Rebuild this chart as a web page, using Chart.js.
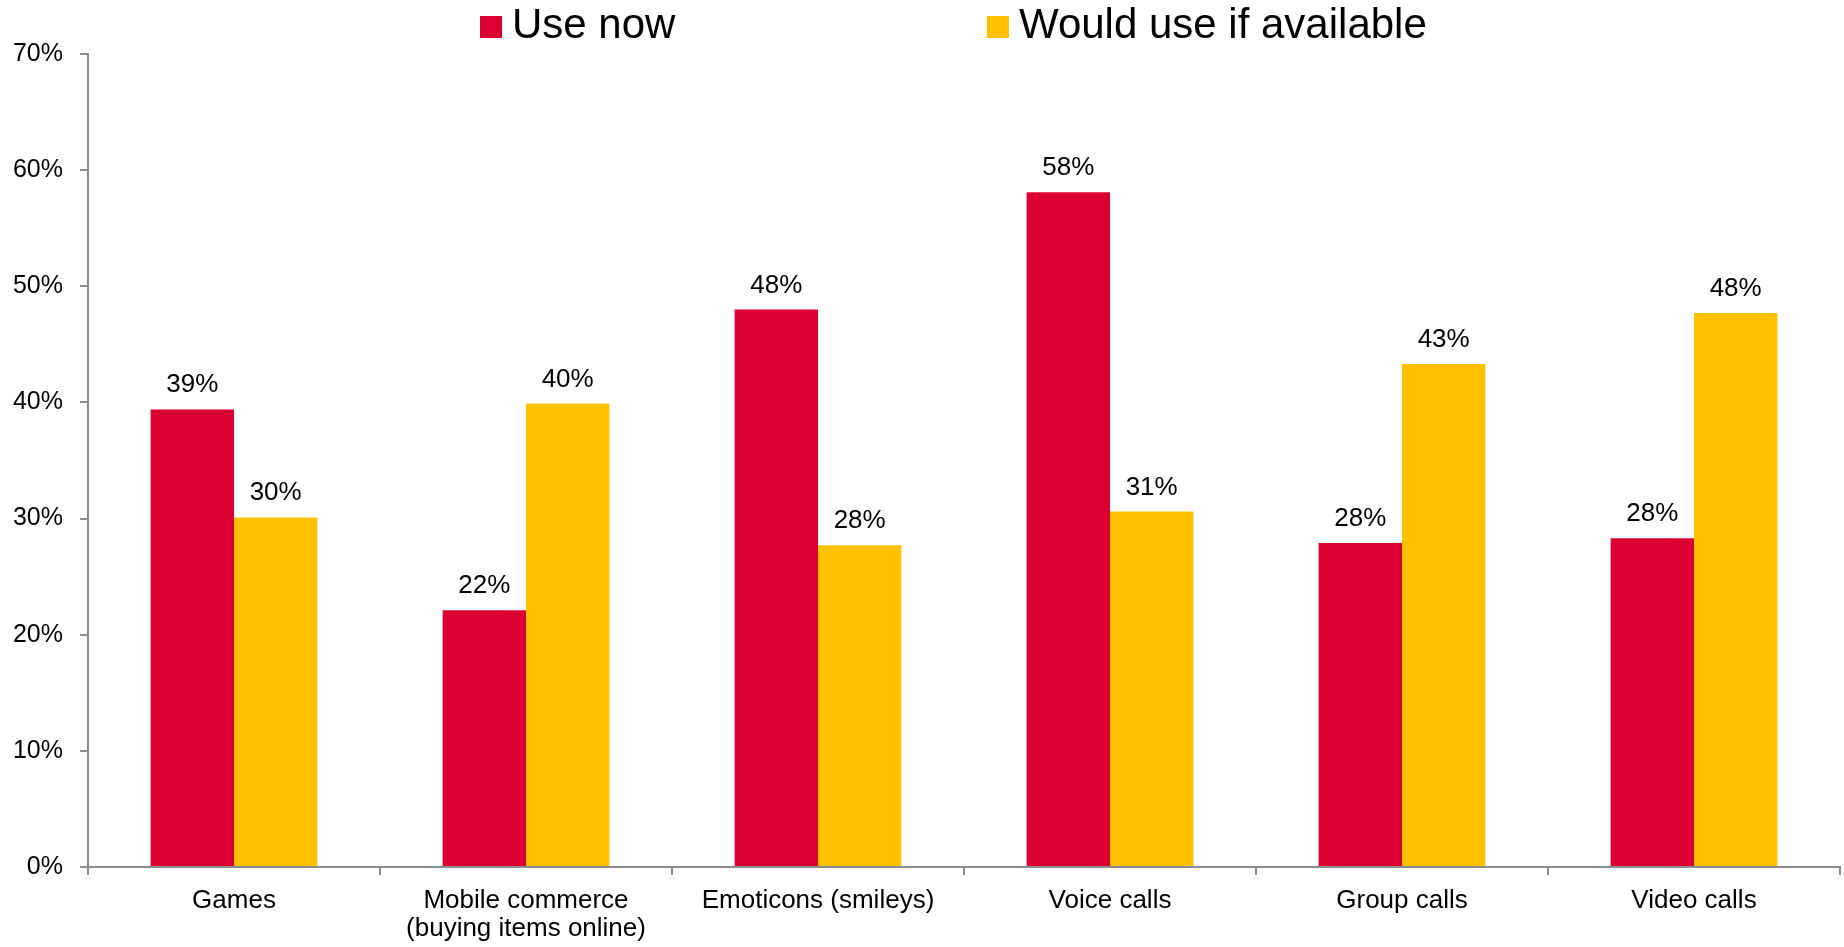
<!DOCTYPE html>
<html>
<head>
<meta charset="utf-8">
<script src="https://cdn.jsdelivr.net/npm/chart.js@4.4.1/dist/chart.umd.min.js"></script>
<style>
  body { margin: 0; background: #fff; }
  #wrap { position: relative; width: 1844px; height: 947px; }
  .leg { position: absolute; top: 3px; font: 42px "Liberation Sans", Arial, sans-serif; line-height: 42px; color: #000; white-space: nowrap; }
  .leg span.box { position: absolute; left: 0; top: 13px; width: 22px; height: 22px; }
  .leg span.txt { margin-left: 32px; }
</style>
</head>
<body>
<div id="wrap">
  <canvas id="mycanvas" width="1844" height="947"></canvas>
  <div class="leg" style="left:480px"><span class="box" style="background:#DC0032"></span><span class="txt">Use now</span></div>
  <div class="leg" style="left:987px"><span class="box" style="background:#FFC000"></span><span class="txt">Would use if available</span></div>
</div>
<script>
//chart data
var categories = ['Games', ['Mobile commerce', '(buying items online)'], 'Emoticons (smileys)', 'Voice calls', 'Group calls', 'Video calls'];
var useNow = [39.4, 22.1, 48.0, 58.1, 27.9, 28.3];
var wouldUse = [30.1, 39.9, 27.7, 30.6, 43.3, 47.7];
var yTicks = [0, 10, 20, 30, 40, 50, 60, 70];

var fontName = '"Liberation Sans", Arial, sans-serif';
var axisGrey = '#8c8c8c';

//draws the % above each bar
var barLabels = {
  id: 'barLabels',
  afterDatasetsDraw: function(chart) {
    var ctx = chart.ctx;
    ctx.save();
    ctx.font = '26px ' + fontName;
    ctx.fillStyle = '#000';
    ctx.textAlign = 'center';
    ctx.textBaseline = 'alphabetic';
    chart.data.datasets.forEach(function(ds, i) {
      chart.getDatasetMeta(i).data.forEach(function(bar, j) {
        ctx.fillText(Math.round(ds.data[j]) + '%', bar.x, bar.y - 17);
      });
    });
    ctx.restore();
  }
};

var ctx = document.getElementById('mycanvas').getContext('2d');
var mychart = new Chart(ctx, {
  type: 'bar',
  data: {
    labels: categories,
    datasets: [
      { label: 'Use now', backgroundColor: '#DC0032', data: useNow },
      { label: 'Would use if available', backgroundColor: '#FFC000', data: wouldUse }
    ]
  },
  options: {
    responsive: false,
    animation: false,
    layout: { padding: { top: 54, right: 4, left: 0, bottom: 0 } },
    datasets: { bar: { categoryPercentage: 0.571, barPercentage: 1.0 } },
    plugins: {
      legend: { display: false },
      tooltip: { enabled: false }
    },
    scales: {
      x: {
        grid: { offset: true, drawOnChartArea: false, drawTicks: true, tickLength: 8, color: axisGrey, lineWidth: 2 },
        border: { color: axisGrey, width: 2 },
        ticks: { color: '#000', font: { family: fontName, size: 26, lineHeight: 1.08 }, padding: 12, maxRotation: 0, autoSkip: false },
        afterFit: function(scale) { scale.height = 80; }
      },
      y: {
        min: 0,
        max: 70,
        afterBuildTicks: function(scale) {
          scale.ticks = yTicks.map(function(v) { return { value: v }; });
        },
        grid: { drawOnChartArea: false, drawTicks: true, tickLength: 8, color: axisGrey, lineWidth: 2 },
        border: { color: axisGrey, width: 2 },
        ticks: {
          color: '#000',
          font: { family: fontName, size: 25 },
          padding: 17,
          callback: function(v) { return v + '%'; }
        },
        afterFit: function(scale) { scale.width = 88; }
      }
    }
  },
  plugins: [barLabels]
});
</script>
</body>
</html>
